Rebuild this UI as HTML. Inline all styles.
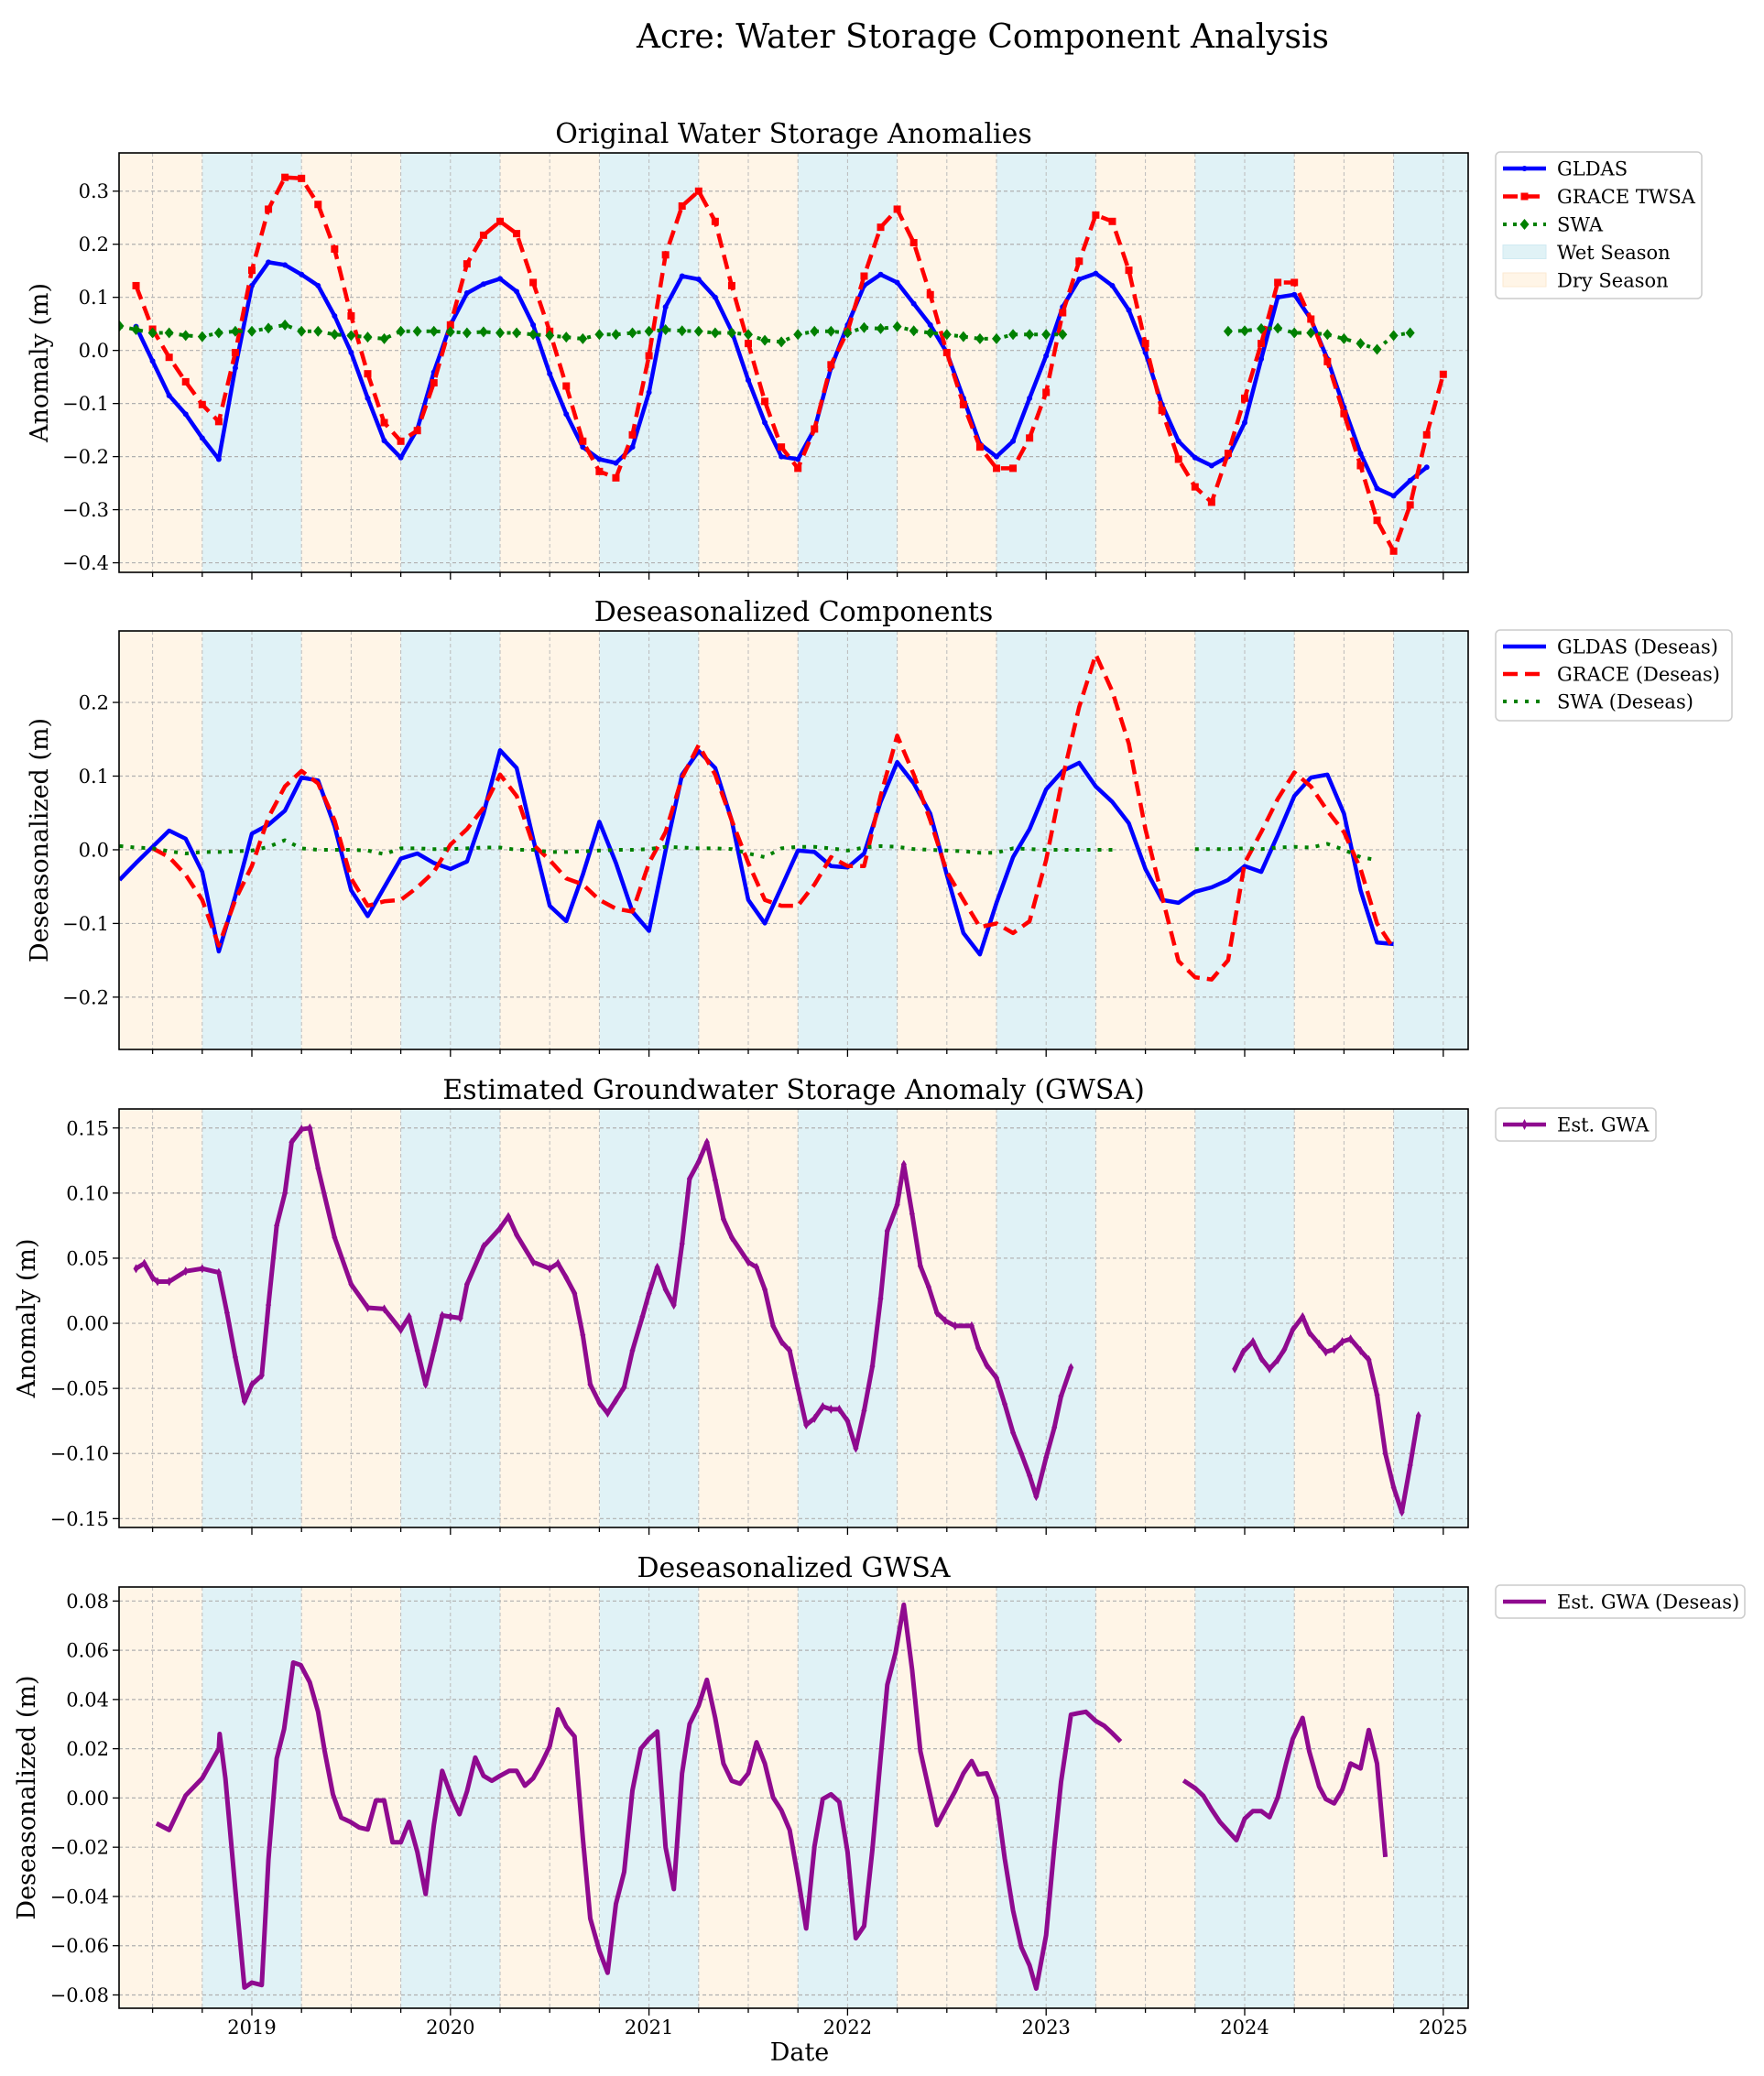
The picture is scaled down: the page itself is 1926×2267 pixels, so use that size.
<!DOCTYPE html>
<html><head><meta charset="utf-8"><title>Acre: Water Storage Component Analysis</title>
<style>
html,body{margin:0;padding:0;background:#fff;}
svg{display:block;font-family:"DejaVu Serif","Liberation Serif",serif;}
</style></head>
<body>
<svg id="chart" xmlns="http://www.w3.org/2000/svg" width="1926" height="2267" viewBox="0 0 1926 2267">
<rect x="0" y="0" width="1926" height="2267" fill="#fff"/>
<text x="1073" y="52" font-size="36" text-anchor="middle" fill="#000">Acre: Water Storage Component Analysis</text>
</svg>
<script>
// ---------- data (months since Jan 2018) ----------
const p1Months = [4,5,6,7,8,9,10,11,12,13,14,15,16,17,18,19,20,21,22,23,24,25,26,27,28,29,30,31,32,33,34,35,36,37,38,39,40,41,42,43,44,45,46,47,48,49,50,51,52,53,54,55,56,57,58,59,60,61,62,63,64,65,66,67,68,69,70,71,72,73,74,75,76,77,78,79,80,81,82,83,84];
const gldas = [null,
 0.045,-0.02,-0.085,-0.12,-0.165,-0.205,-0.033,
 0.122,0.166,0.161,0.143,0.122,0.065,-0.004,-0.09,-0.17,-0.202,-0.148,-0.041,
 0.048,0.108,0.125,0.135,0.111,0.048,-0.044,-0.12,-0.182,-0.205,-0.212,-0.182,
 -0.079,0.082,0.14,0.134,0.1,0.036,-0.056,-0.136,-0.2,-0.205,-0.148,-0.033,
 0.048,0.122,0.143,0.128,0.088,0.048,-0.004,-0.09,-0.176,-0.2,-0.171,-0.09,
 -0.01,0.082,0.134,0.145,0.122,0.076,-0.004,-0.102,-0.171,-0.202,-0.217,-0.2,
 -0.136,-0.016,0.1,0.105,0.059,-0.016,-0.107,-0.194,-0.26,-0.274,-0.245,-0.22,
 null];
const grace = [null,
 0.122,0.04,-0.013,-0.059,-0.102,-0.134,-0.004,
 0.151,0.266,0.326,0.324,0.275,0.191,0.065,-0.044,-0.136,-0.171,-0.151,-0.061,
 0.048,0.163,0.217,0.243,0.22,0.128,0.036,-0.067,-0.171,-0.228,-0.24,-0.159,
 -0.01,0.18,0.272,0.3,0.243,0.122,0.013,-0.096,-0.182,-0.222,-0.148,-0.027,
 0.036,0.14,0.232,0.266,0.203,0.105,-0.004,-0.102,-0.182,-0.222,-0.222,-0.165,
 -0.079,0.071,0.168,0.255,0.243,0.151,0.013,-0.113,-0.205,-0.257,-0.286,-0.194,
 -0.09,0.013,0.128,0.128,0.059,-0.021,-0.119,-0.217,-0.32,-0.378,-0.291,-0.159,
 -0.045];
const swa = [0.046,
 0.039,0.033,0.033,0.028,0.026,0.033,0.036,
 0.036,0.042,0.048,0.036,0.036,0.03,0.028,0.025,0.022,0.036,0.036,0.036,
 0.035,0.033,0.035,0.033,0.033,0.03,0.028,0.025,0.022,0.03,0.03,0.033,
 0.036,0.039,0.037,0.036,0.033,0.033,0.03,0.019,0.016,0.03,0.036,0.036,
 0.033,0.043,0.041,0.045,0.037,0.033,0.03,0.026,0.022,0.022,0.03,0.03,
 0.03,0.03,null,null,null,null,null,null,null,null,null,0.036,
 0.037,0.041,0.042,0.033,0.033,0.03,0.022,0.013,0.002,0.028,0.033,null,
 null];

const p2Months = [4,5,6,7,8,9,10,11,12,13,14,15,16,17,18,19,20,21,22,23,24,25,26,27,28,29,30,31,32,33,34,35,36,37,38,39,40,41,42,43,44,45,46,47,48,49,50,51,52,53,54,55,56,57,58,59,60,61,62,63,64,65,66,67,68,69,70,71,72,73,74,75,76,77,78,79,80,81];
const gldasD = [-0.041,
 -0.018,0.004,0.026,0.015,-0.03,-0.138,-0.063,
 0.022,0.034,0.053,0.098,0.094,0.032,-0.055,-0.09,-0.051,-0.012,-0.005,-0.018,
 -0.026,-0.016,0.049,0.135,0.111,0.015,-0.076,-0.097,-0.034,0.038,-0.018,-0.084,
 -0.11,-0.001,0.102,0.134,0.111,0.04,-0.068,-0.1,-0.051,-0.001,-0.003,-0.022,
 -0.024,-0.005,0.065,0.119,0.09,0.049,-0.034,-0.113,-0.142,-0.072,-0.01,0.028,
 0.082,0.107,0.118,0.086,0.065,0.036,-0.026,-0.068,-0.072,-0.057,-0.051,-0.041,
 -0.022,-0.03,0.02,0.073,0.098,0.102,0.049,-0.055,-0.126,-0.128];
const graceD = [null,null,
 0.002,-0.01,-0.034,-0.068,-0.13,-0.068,
 -0.022,0.044,0.086,0.107,0.09,0.04,-0.039,-0.076,-0.07,-0.068,-0.051,-0.03,
 0.007,0.028,0.057,0.102,0.073,0.007,-0.014,-0.039,-0.047,-0.068,-0.08,-0.084,
 -0.018,0.024,0.098,0.142,0.102,0.04,-0.018,-0.068,-0.076,-0.076,-0.047,-0.01,
 -0.022,-0.022,0.073,0.155,0.102,0.04,-0.03,-0.068,-0.105,-0.1,-0.113,-0.097,
 -0.014,0.098,0.194,0.265,0.215,0.144,0.028,-0.063,-0.151,-0.173,-0.176,-0.15,
 -0.018,0.024,0.069,0.105,0.086,0.053,0.024,-0.026,-0.1,-0.134];
const swaD = [0.005,0.003,0.002,-0.002,-0.005,-0.003,-0.003,-0.002,
 -0.001,0.004,0.013,0.002,0.0,0.0,0.0,-0.001,-0.006,0.002,0.002,0.001,
 0.001,0.002,0.003,0.003,0.0,0.0,-0.003,-0.003,-0.002,-0.001,0.0,0.0,
 0.001,0.004,0.003,0.002,0.002,0.001,-0.005,-0.01,0.002,0.004,0.004,0.002,
 -0.001,0.003,0.005,0.004,0.001,0.0,-0.001,-0.002,-0.004,-0.004,0.002,0.001,
 0.0,0.0,0.0,0.0,0.0,null,null,null,null,0.001,0.001,0.001,
 0.002,0.001,0.003,0.004,0.003,0.008,0.0,-0.01,-0.014,null];

const gwaT = [5,5.5,6,6.3,7,8,9,10,10.5,11,11.55,12,12.6,13,13.5,14,14.4,15,15.5,16,17,18,19,20,21,21.5,22,22.5,23,23.5,24,24.6,25,26,27,27.5,28,29,30,30.5,31,31.5,32,32.45,33,33.5,34,34.5,35,35.6,36,36.5,37,37.5,38,38.45,39,39.5,40,40.5,41,42,42.5,43,43.5,44,44.5,45,45.5,46,46.5,47,47.5,48,48.5,49,49.5,50,50.4,51,51.4,51.9,52.4,52.9,53.4,53.9,54.5,55.5,55.9,56.4,57,57.5,58,58.5,59,59.4,60,60.5,60.9,61.5,66,71.4,71.9,72.5,73,73.5,74,74.4,74.9,75.5,75.9,76.5,76.9,77.4,77.9,78.4,79,79.5,80,80.5,81,81.5,82,82.5];
const gwaV = [0.042,0.046,0.035,0.032,0.032,0.04,0.042,0.039,0.008,-0.026,-0.06,-0.047,-0.04,0.014,0.075,0.1,0.139,0.149,0.15,0.119,0.066,0.03,0.012,0.011,-0.005,0.005,-0.021,-0.047,-0.021,0.006,0.005,0.004,0.03,0.059,0.073,0.082,0.068,0.047,0.042,0.046,0.035,0.023,-0.009,-0.047,-0.061,-0.069,-0.059,-0.049,-0.021,0.005,0.023,0.043,0.026,0.014,0.061,0.111,0.124,0.139,0.11,0.08,0.066,0.047,0.043,0.026,-0.002,-0.014,-0.021,-0.05,-0.078,-0.073,-0.064,-0.066,-0.066,-0.075,-0.096,-0.067,-0.033,0.019,0.071,0.091,0.122,0.084,0.044,0.028,0.008,0.002,-0.002,-0.002,-0.019,-0.032,-0.042,-0.062,-0.084,-0.1,-0.117,-0.133,-0.103,-0.08,-0.056,-0.034,null,-0.035,-0.022,-0.014,-0.027,-0.035,-0.028,-0.02,-0.005,0.005,-0.007,-0.016,-0.022,-0.02,-0.014,-0.012,-0.021,-0.028,-0.055,-0.1,-0.126,-0.145,-0.109,-0.071];

const gwaDT = [6.23,7,8,9,9.5,10,10.05,10.4,11,11.55,12,12.6,13,13.5,13.95,14.5,14.95,15.5,16,16.4,16.9,17.4,17.95,18.5,19,19.5,20,20.5,21,21.5,22,22.5,23,23.5,24.1,24.55,25,25.5,26,26.5,27,27.55,28,28.5,29,29.5,30,30.5,31,31.5,32,32.45,33,33.5,34,34.5,35,35.5,36,36.5,37,37.5,38,38.45,39,39.5,40,40.5,41,41.5,42,42.5,43,43.5,44,44.5,45,45.5,46,46.5,47,47.5,48,48.5,49,49.5,50,50.4,50.9,51.4,51.9,52.4,52.9,53.4,53.9,54.5,55,55.5,55.9,56.4,57,57.5,58,58.5,59,59.4,60,60.5,60.9,61.5,61.9,62.4,63,63.5,64,64.5,66,68.3,69,69.5,70,70.5,71,71.5,72,72.5,73,73.5,74,74.5,74.9,75.5,75.9,76.5,76.9,77.4,77.9,78.4,79,79.5,80,80.5];
const gwaDV = [-0.0103,-0.013,0.001,0.008,0.014,0.02,0.026,0.008,-0.037,-0.077,-0.075,-0.076,-0.025,0.016,0.028,0.055,0.054,0.047,0.035,0.019,0.0015,-0.008,-0.0097,-0.012,-0.0128,-0.001,-0.001,-0.018,-0.018,-0.0097,-0.022,-0.039,-0.011,0.011,0.0,-0.0066,0.0027,0.0164,0.009,0.007,0.009,0.011,0.011,0.005,0.008,0.014,0.021,0.036,0.029,0.025,-0.016,-0.049,-0.062,-0.071,-0.043,-0.03,0.003,0.02,0.024,0.027,-0.02,-0.037,0.01,0.03,0.0375,0.048,0.0325,0.014,0.007,0.0058,0.01,0.0226,0.014,0.0002,-0.005,-0.013,-0.032,-0.053,-0.0196,-0.0004,0.0015,-0.0016,-0.022,-0.057,-0.052,-0.021,0.0164,0.046,0.059,0.0785,0.052,0.019,0.004,-0.011,-0.0047,0.0027,0.01,0.015,0.0096,0.01,0.0002,-0.0246,-0.0457,-0.0606,-0.068,-0.0774,-0.0557,-0.0196,0.0065,0.0338,0.0344,0.035,0.0313,0.0294,0.0263,0.0229,null,0.0071,0.004,0.0009,-0.0047,-0.0097,-0.0134,-0.0171,-0.0084,-0.0053,-0.0053,-0.0078,0.0002,0.014,0.0239,0.0325,0.0189,0.0046,-0.0004,-0.0022,0.0034,0.014,0.012,0.0276,0.014,-0.024];

const yearTicks = [2019,2020,2021,2022,2023,2024,2025];
const p1Ticks = [0.3,0.2,0.1,0.0,-0.1,-0.2,-0.3,-0.4];
const p1TickLabels = ["0.3","0.2","0.1","0.0","\u22120.1","\u22120.2","\u22120.3","\u22120.4"];
const p2Ticks = [0.2,0.1,0.0,-0.1,-0.2];
const p2TickLabels = ["0.2","0.1","0.0","\u22120.1","\u22120.2"];
const p3Ticks = [0.15,0.10,0.05,0.0,-0.05,-0.10,-0.15];
const p3TickLabels = ["0.15","0.10","0.05","0.00","\u22120.05","\u22120.10","\u22120.15"];
const p4Ticks = [0.08,0.06,0.04,0.02,0.0,-0.02,-0.04,-0.06,-0.08];
const p4TickLabels = ["0.08","0.06","0.04","0.02","0.00","\u22120.02","\u22120.04","\u22120.06","\u22120.08"];

// ---------- rendering ----------
const NS = "http://www.w3.org/2000/svg";
const svg = document.getElementById('chart');
const X0 = 130, X1 = 1603;
function xs(m){ return 275 + (m-12)/12*216.8; }
function mk(tag, attrs, parent){
  const e = document.createElementNS(NS, tag);
  for (const k in attrs) e.setAttribute(k, attrs[k]);
  (parent||svg).appendChild(e);
  return e;
}
function makeY(top,bottom,ymin,ymax){ return v => bottom - (v-ymin)/(ymax-ymin)*(bottom-top); }

function panel(cfg){
  const g = mk('g', {});
  
  
  const ys = makeY(cfg.top, cfg.bottom, cfg.ymin, cfg.ymax);
  for (let yr = 2017; yr <= 2025; yr++){
    const wetStart = (yr-2018)*12 + 9, wetEnd = wetStart + 6, dryEnd = wetEnd + 6;
    const a = Math.max(xs(wetStart), X0), b = Math.min(xs(wetEnd), X1);
    if (b > a){
      const r = mk('rect', {x:a, y:cfg.top, width:b-a, height:cfg.bottom-cfg.top, fill:'#e0f2f6'}, g);
      
      
    }
    const c = Math.max(xs(wetEnd), X0), d = Math.min(xs(dryEnd), X1);
    if (d > c){
      const r = mk('rect', {x:c, y:cfg.top, width:d-c, height:cfg.bottom-cfg.top, fill:'#fff5e7'}, g);
      
      
    }
  }
  for (let m = 0; m <= 90; m += 3){
    const x = xs(m);
    if (x <= X0 || x >= X1) continue;
    const l = mk('line', {x1:x, x2:x, y1:cfg.top, y2:cfg.bottom, stroke:'#bbbbbb', 'stroke-width':1, 'stroke-dasharray':'4,3'}, g);
    
    
    const major = (m % 12 === 0);
    const t = mk('line', {x1:x, x2:x, y1:cfg.bottom, y2:cfg.bottom + (major ? 8 : 5), stroke:'#000', 'stroke-width':1.3}, g);
    
    
  }
  cfg.ticks.forEach((v,i) => {
    const y = ys(v);
    const l = mk('line', {x1:X0, x2:X1, y1:y, y2:y, stroke:'#b0b0b0', 'stroke-width':1.2, 'stroke-dasharray':'4,3'}, g);
    
    
    const t = mk('line', {x1:X0-7, x2:X0, y1:y, y2:y, stroke:'#000', 'stroke-width':1.3}, g);
    
    
    const tx = mk('text', {x:X0-11, y:y+7.5, 'font-size':21, 'text-anchor':'end', fill:'#000'}, g);
    tx.textContent = cfg.tickLabels[i];
    
    
  });
  const cp = mk('clipPath', {id:'clip-'+cfg.name}, g);
  mk('rect', {x:X0, y:cfg.top, width:X1-X0, height:cfg.bottom-cfg.top}, cp);
  const sg = mk('g', {'clip-path':'url(#clip-'+cfg.name+')'}, g);
  
  
  cfg.series.forEach(s => {
    let d = '', pen = false;
    const pts = [];
    s.t.forEach((m,i) => {
      const v = s.v[i];
      if (v === null || v === undefined){ pen = false; return; }
      const x = xs(m), y = ys(v);
      d += (pen ? 'L' : 'M') + x.toFixed(1) + ',' + y.toFixed(1);
      pen = true;
      pts.push([x,y]);
    });
    const p = mk('path', {d:d, fill:'none', stroke:s.color, 'stroke-width':s.w, 'stroke-linejoin':'round', 'stroke-linecap':s.cap||'butt'}, sg);
    if (s.dash) p.setAttribute('stroke-dasharray', s.dash);
    
    
    if (s.marker){
      pts.forEach(([x,y]) => {
        let e;
        if (s.marker === 'circle') e = mk('circle', {cx:x, cy:y, r:3, fill:s.color}, sg);
        else if (s.marker === 'square') e = mk('rect', {x:x-4, y:y-4, width:8, height:8, fill:s.color}, sg);
        else if (s.marker === 'diamond') e = mk('path', {d:`M${x},${y-6}L${x+5},${y}L${x},${y+6}L${x-5},${y}Z`, fill:s.color}, sg);
        else e = mk('path', {d:`M${x},${y-5}L${x+3},${y}L${x},${y+5}L${x-3},${y}Z`, fill:s.color}, sg);
        
        
      });
    }
  });
  const sp = mk('rect', {x:X0, y:cfg.top, width:X1-X0, height:cfg.bottom-cfg.top, fill:'none', stroke:'#000', 'stroke-width':1.6}, g);
  
  
  const tt = mk('text', {x:(X0+X1)/2, y:cfg.top-11, 'font-size':30, 'text-anchor':'middle', fill:'#000'}, g);
  tt.textContent = cfg.title;
  
  
  const cy = (cfg.top+cfg.bottom)/2;
  const yl = mk('text', {x:cfg.ylx, y:cy, 'font-size':27, 'text-anchor':'middle', fill:'#000', transform:`rotate(-90 ${cfg.ylx} ${cy})`}, g);
  yl.textContent = cfg.ylabel;
  
  
  const L = cfg.legend;
  const lg = mk('g', {}, g);
  
  
  const lb = mk('rect', {x:L.x, y:L.y, width:L.w, height:L.h, rx:5, fill:'#fff', 'fill-opacity':0.8, stroke:'#cccccc', 'stroke-width':1.5}, lg);
  
  
  L.items.forEach((it,i) => {
    const ry = L.y + 18 + i*L.dy;
    const hx0 = L.x + 8, hx1 = L.x + 55;
    if (it.patch){
      const r = mk('rect', {x:hx0, y:ry-8, width:hx1-hx0, height:15, fill:it.patch, stroke:it.edge, 'stroke-width':1}, lg);
      
      
    } else {
      const l = mk('line', {x1:hx0, x2:hx1, y1:ry, y2:ry, stroke:it.color, 'stroke-width':it.w}, lg);
      if (it.dash) l.setAttribute('stroke-dasharray', it.dash);
      
      
      const cx = (hx0+hx1)/2;
      if (it.marker === 'diamond' || it.marker === 'thin'){
        const s = it.marker === 'thin' ? 3 : 5;
        const m = mk('path', {d:`M${cx},${ry-6}L${cx+s},${ry}L${cx},${ry+6}L${cx-s},${ry}Z`, fill:it.color}, lg);
        
        
      } else if (it.marker === 'square'){
        const m = mk('rect', {x:cx-4, y:ry-4, width:8, height:8, fill:it.color}, lg);
        
        
      } else if (it.marker === 'circle'){
        const m = mk('circle', {cx:cx, cy:ry, r:3, fill:it.color}, lg);
        
        
      }
    }
    const tx = mk('text', {x:L.x + 67, y:ry+7.5, 'font-size':21, fill:'#000'}, lg);
    tx.textContent = it.label;
    
    
  });
  return g;
}

panel({name:'original-anomalies-panel', top:167, bottom:625, ymin:-0.418, ymax:0.372,
  ticks:p1Ticks, tickLabels:p1TickLabels, title:'Original Water Storage Anomalies', ylabel:'Anomaly (m)', ylx:52,
  series:[
    {name:'gldas', t:p1Months, v:gldas, color:'#0000ff', w:4.5, marker:'circle'},
    {name:'grace-twsa', t:p1Months, v:grace, color:'#ff0000', w:4.5, dash:'16,8', marker:'square'},
    {name:'swa', t:p1Months, v:swa, color:'#008000', w:4, dash:'4,7', marker:'diamond'}
  ],
  legend:{x:1633, y:166, w:225, h:160, dy:30.5, items:[
    {label:'GLDAS', color:'#0000ff', w:4.5, marker:'circle'},
    {label:'GRACE TWSA', color:'#ff0000', w:4.5, dash:'16,8', marker:'square'},
    {label:'SWA', color:'#008000', w:4, dash:'4,7', marker:'diamond'},
    {label:'Wet Season', patch:'#e0f2f6', edge:'#d0eaf2'},
    {label:'Dry Season', patch:'#fff5e7', edge:'#fbe9d2'}
  ]}
});

panel({name:'deseasonalized-components-panel', top:689, bottom:1146, ymin:-0.271, ymax:0.297,
  ticks:p2Ticks, tickLabels:p2TickLabels, title:'Deseasonalized Components', ylabel:'Deseasonalized (m)', ylx:52,
  series:[
    {name:'gldas-deseas', t:p2Months, v:gldasD, color:'#0000ff', w:4.5},
    {name:'grace-deseas', t:p2Months, v:graceD, color:'#ff0000', w:4.5, dash:'16,8'},
    {name:'swa-deseas', t:p2Months, v:swaD, color:'#008000', w:4, dash:'4,8'}
  ],
  legend:{x:1633, y:688, w:258, h:99, dy:30, items:[
    {label:'GLDAS (Deseas)', color:'#0000ff', w:4.5},
    {label:'GRACE (Deseas)', color:'#ff0000', w:4.5, dash:'16,8'},
    {label:'SWA (Deseas)', color:'#008000', w:4, dash:'4,8'}
  ]}
});

panel({name:'gwsa-panel', top:1211, bottom:1668, ymin:-0.1568, ymax:0.1646,
  ticks:p3Ticks, tickLabels:p3TickLabels, title:'Estimated Groundwater Storage Anomaly (GWSA)', ylabel:'Anomaly (m)', ylx:38,
  series:[
    {name:'est-gwa', t:gwaT, v:gwaV, color:'#8f0a8f', w:5, marker:'thin'}
  ],
  legend:{x:1633, y:1210, w:175, h:36, dy:30, items:[
    {label:'Est. GWA', color:'#8f0a8f', w:4.5, marker:'thin'}
  ]}
});

panel({name:'deseasonalized-gwsa-panel', top:1733, bottom:2193, ymin:-0.0854, ymax:0.0857,
  ticks:p4Ticks, tickLabels:p4TickLabels, title:'Deseasonalized GWSA', ylabel:'Deseasonalized (m)', ylx:38,
  series:[
    {name:'est-gwa-deseas', t:gwaDT, v:gwaDV, color:'#8f0a8f', w:5}
  ],
  legend:{x:1633, y:1731, w:272, h:36, dy:30, items:[
    {label:'Est. GWA (Deseas)', color:'#8f0a8f', w:4.5}
  ]}
});

yearTicks.forEach(yr => {
  const x = xs((yr-2018)*12);
  const t = mk('text', {x:x, y:2221, 'font-size':21, 'text-anchor':'middle', fill:'#000'});
  t.textContent = String(yr);
  
  
});
const xt = mk('text', {x:873, y:2250, 'font-size':27, 'text-anchor':'middle', fill:'#000'});
xt.textContent = 'Date';


</script>
</body></html>
